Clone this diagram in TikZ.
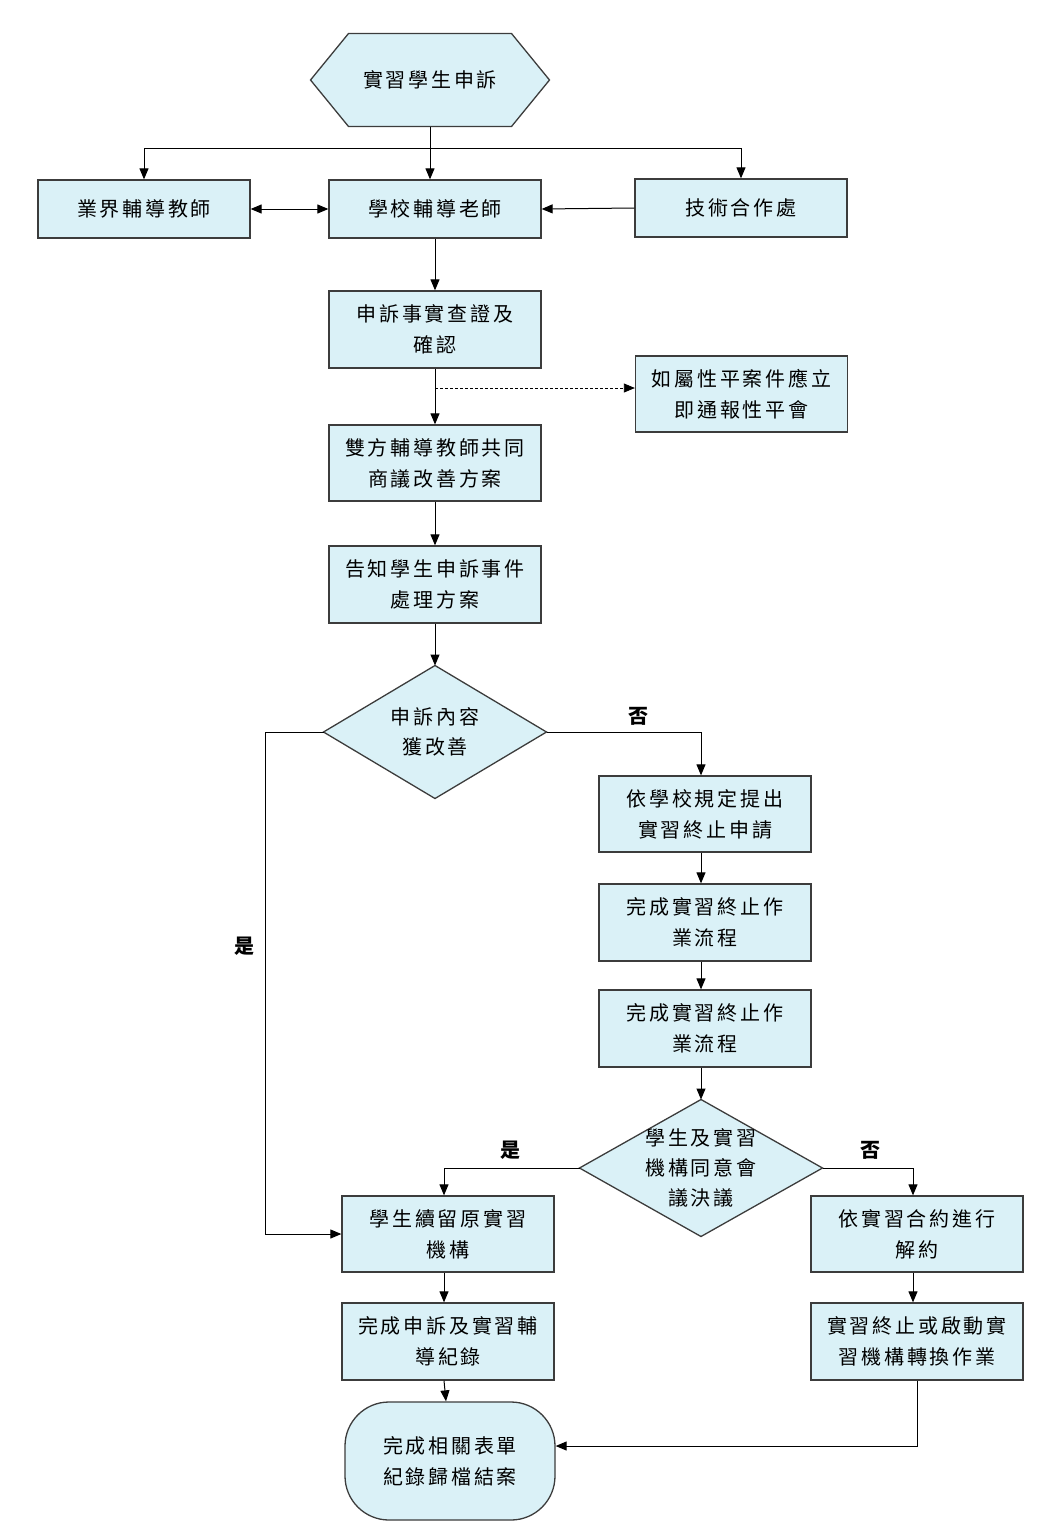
\documentclass[tikz,border=0pt]{standalone}
\usepackage{fontspec}
\newfontfamily\cjk[LetterSpace=14]{Noto Sans CJK TC}
\usetikzlibrary{arrows.meta,backgrounds}
\definecolor{boxfill}{RGB}{218,241,247}
\definecolor{boxline}{RGB}{60,60,60}
\tikzset{
	box/.style={draw=boxline,fill=boxfill,line width=1.3pt,minimum width=212pt,minimum height=77pt,align=center,inner sep=0pt,font=\cjk\fontsize{20}{31}\selectfont},
	bare/.style={align=center,inner sep=0pt,font=\cjk\fontsize{20}{30}\selectfont},
	shapeline/.style={draw=boxline,fill=boxfill,line width=1.3pt},
	yesno/.style={inner sep=0pt,font=\cjk\bfseries\fontsize{20}{24}\selectfont},
}
\begin{document}
\begin{tikzpicture}[x=1pt,y=-1pt,>={Triangle[length=11pt,width=9pt]},line width=1pt]
	    \useasboundingbox(0,0)rectangle(1051,1526);

	    \node[bare,minimum width=238pt,minimum height=92pt](H)at(430,80){實習學生申訴};
	    \node[box,minimum height=58pt](A)at(144,209){業界輔導教師};
	    \node[box,minimum height=58pt](B)at(435,209){學校輔導老師};
	    \node[box,minimum height=58pt](C)at(741,208){技術合作處};
	    \node[box](D)at(435,329.5){申訴事實查證及\\確認};
	    \node[box,minimum height=76pt](E)at(741.5,394){如屬性平案件應立\\即通報性平會};
	    \node[box,minimum height=76pt](F)at(435,463){雙方輔導教師共同\\商議改善方案};
	    \node[box](G)at(435,584.5){告知學生申訴事件\\處理方案};
	    \node[bare,minimum width=222pt,minimum height=132pt](Q)at(435,732){申訴內容\\獲改善};
	    \node[box,minimum height=76pt](I)at(705,814){依學校規定提出\\實習終止申請};
	    \node[box](J)at(705,922.5){完成實習終止作\\業流程};
	    \node[box](K)at(705,1028.5){完成實習終止作\\業流程};
	    \node[bare,minimum width=242pt,minimum height=136pt](R)at(701,1168){學生及實習\\機構同意會\\議決議};
	    \node[box,minimum height=76pt](L)at(448,1234){學生續留原實習\\機構};
	    \node[box](M)at(448,1341.5){完成申訴及實習輔\\導紀錄};
	    \node[box,minimum height=76pt](N)at(917,1234){依實習合約進行\\解約};
	    \node[box](O)at(917,1341.5){實習終止或啟動實\\習機構轉換作業};
	    \node[box,minimum width=210pt,minimum height=118pt,rounded corners=44pt](P)at(450,1461){完成相關表單\\紀錄歸檔結案};

	    \begin{scope}[on background layer]
	    	\draw[shapeline](H.west)--([xshift=38pt]H.north west)--([xshift=-38pt]H.north east)--(H.east)--([xshift=-38pt]H.south east)--([xshift=38pt]H.south west)--cycle;
	    	\draw[shapeline](Q.north)--(Q.east)--(Q.south)--(Q.west)--cycle;
	    	\draw[shapeline](R.north)--(R.east)--(R.south)--(R.west)--cycle;
	    \end{scope}

	    \coordinate(T)at(430,148);
	    \coordinate(U)at(435,388);
	    \coordinate(V)at(265,732);

	    \draw(H.south)--(T);
	    \draw[->](T)--(T|-B.north);
	    \draw[->](T)-|(A.north);
	    \draw[->](T)-|(C.north);
	    \draw[<->](A.east)--(B.west);
	    \draw[->](C.west)--(B.east);
	    \draw[->](B.south)--(D.north);
	    \draw[->](D.south)--(F.north);
	    \draw[->,densely dashed,line width=0.8pt](U)--(U-|E.west);
	    \draw[->](F.south)--(G.north);
	    \draw[->](G.south)--(Q.north);
	    \draw[->](Q.east)-|([xshift=-4pt]I.north);
	    \draw[->]([xshift=-4pt]I.south)--([xshift=-4pt]J.north);
	    \draw[->]([xshift=-4pt]J.south)--([xshift=-4pt]K.north);
	    \draw[->]([xshift=-4pt]K.south)--(R.north);
	    \draw[->](R.west)-|([xshift=-4pt]L.north);
	    \draw[->](R.east)-|([xshift=-4pt]N.north);
	    \draw[->](Q.west)--(V)|-(L.west);
	    \draw[->]([xshift=-4pt]L.south)--([xshift=-4pt]M.north);
	    \draw[->]([xshift=-4pt]M.south)--([xshift=-4pt]P.north);
	    \draw[->]([xshift=-4pt]N.south)--([xshift=-4pt]O.north);
	    \draw[->](O.south)|-([yshift=15pt]P.east);

	    \node[yesno](Y1)at(244,946){是};
	    \node[yesno](N1)at(638,716){否};
	    \node[yesno](Y2)at(510,1150){是};
	    \node[yesno](N2)at(870,1150){否};
\end{tikzpicture}
\end{document}
